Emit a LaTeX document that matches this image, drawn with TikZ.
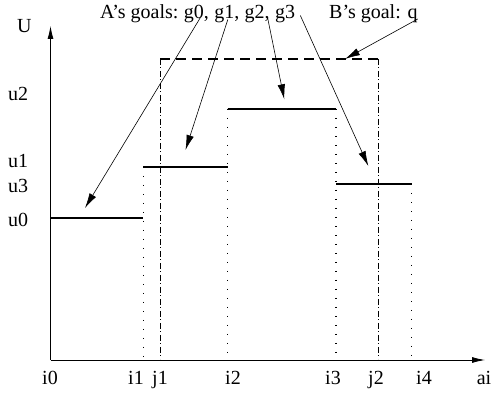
\documentclass[tikz,border=0pt]{standalone}
\usepackage{fontspec}
\setmainfont{Liberation Serif}
\usepackage{tikz}
\usetikzlibrary{arrows.meta}

\tikzset{lbl/.style={font=\fontsize{20}{24}\selectfont, inner sep=0pt},
goalarrow/.style={line width=0.6pt,-{Latex[length=15pt,width=7.5pt]}},
axisarrow/.style={line width=0.8pt,-{Latex[length=13pt,width=6pt]}},
lvl/.style={line width=1.5pt},
dotline/.style={line width=1.5pt, dash pattern=on 1.5pt off 7.5pt},
dashdot/.style={line width=0.7pt, dash pattern=on 6pt off 2.5pt on 1pt off 2.5pt},
qline/.style={line width=1.2pt, dash pattern=on 10pt off 6pt}}

\begin{document}
\begin{tikzpicture}[x=1pt,y=1pt]
\useasboundingbox (0,0) rectangle (494,395);
% axes
\coordinate (O) at (50.5,35);
\draw[axisarrow] (O)--(50.5,369);
\draw[axisarrow] (O)--(485,35);
\node[lbl,anchor=base west] (U) at (17,362) {U};
\node[lbl,anchor=base west] (u2) at (8,294) {u2};
\node[lbl,anchor=base west] (u1) at (8,227) {u1};
\node[lbl,anchor=base west] (u3) at (8,202) {u3};
\node[lbl,anchor=base west] (u0) at (8,168) {u0};
\node[lbl,anchor=base] (i0) at (50,10) {i0};
\node[lbl,anchor=base] (i1) at (136,10) {i1};
\node[lbl,anchor=base] (j1) at (160,10) {j1};
\node[lbl,anchor=base] (i2) at (233,10) {i2};
\node[lbl,anchor=base] (i3) at (333,10) {i3};
\node[lbl,anchor=base] (j2) at (376,10) {j2};
\node[lbl,anchor=base] (i4) at (424,10) {i4};
\node[lbl,anchor=base] (ai) at (484,10) {ai};
% A's steps
\draw[lvl] (50.5,177)--(143.3,177)
(143.3,228)--(227.7,228)
(227.7,286)--(336,286)
(336,211)--(411.7,211);
\draw[dotline] (143.3,228)--(143.3,37)
(227.7,286)--(227.7,37)
(336,286)--(336,37)
(411.7,211)--(411.7,37);
% B's goal
\draw[qline] (160,336)--(378.3,336);
\draw[dashdot] (160,336)--(160,36)
(378.3,336)--(378.3,36);
% goal labels
\node[lbl,anchor=base west] (agoals) at (100,376.5) {A’s goals:};
\node[lbl,anchor=base west] (g0) at ([xshift=5pt]agoals.base east) {g0,};
\node[lbl,anchor=base west] (g1) at ([xshift=5pt]g0.base east) {g1,};
\node[lbl,anchor=base west] (g2) at ([xshift=5pt]g1.base east) {g2,};
\node[lbl,anchor=base west] (g3) at ([xshift=5pt]g2.base east) {g3};
\node[lbl,anchor=base west] (bgoal) at (329,376.5) {B’s goal: q};
\coordinate (t0) at (85,187);
\coordinate (t1) at (185.5,245);
\coordinate (t2) at (284.3,295.7);
\coordinate (t3) at (368.3,229);
\coordinate (tq) at (345,336);
\draw[goalarrow] ([shift={(-8.7pt,1pt)}]g0.base east)--(t0);
\draw[goalarrow] ([shift={(-11.7pt,-1pt)}]g1.base east)--(t1);
\draw[goalarrow] ([shift={(-2.4pt,1pt)}]g2.base east)--(t2);
\draw[goalarrow] ([shift={(5pt,3pt)}]g3.base east)--(t3);
\draw[goalarrow] ([shift={(0pt,-0.5pt)}]bgoal.base east)--(tq);
\end{tikzpicture}
\end{document}
